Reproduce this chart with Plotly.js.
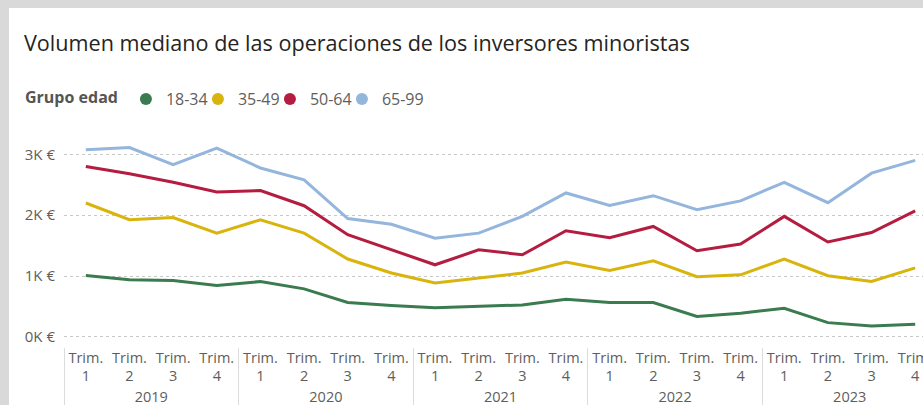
<!DOCTYPE html>
<html>
<head>
<meta charset="utf-8">
<script src="https://cdn.plot.ly/plotly-3.0.1.min.js"></script>
<style>
    html, body { margin: 0; padding: 0; background: #d9d9d9; overflow: hidden; width: 923px; height: 405px; }
    #chart { position: absolute; left: 9px; top: 8px; width: 940px; height: 397px; background: #fff; }
</style>
</head>
<body>
<div id="chart"></div>
<script>

// categories
const years = [ '2019', '2020', '2021', '2022', '2023' ];
const quarters = [ 'Trim.<br>1', 'Trim.<br>2', 'Trim.<br>3', 'Trim.<br>4' ];

// median trade volume (€) per age group, 2019 T1 .. 2023 T4
const g18_34 = [ 1010, 940, 925, 845, 910, 790, 565, 515, 480, 500, 525, 620, 565, 565, 335, 390, 470, 235, 180, 210 ];
const g35_49 = [ 2200, 1925, 1960, 1705, 1925, 1705, 1280, 1050, 885, 965, 1050, 1230, 1090, 1250, 990, 1020, 1280, 1005, 910, 1135 ];
const g50_64 = [ 2800, 2680, 2540, 2380, 2405, 2155, 1680, 1430, 1185, 1430, 1350, 1745, 1630, 1815, 1415, 1525, 1980, 1560, 1715, 2070 ];
const g65_99 = [ 3075, 3110, 2830, 3100, 2775, 2580, 1945, 1850, 1620, 1705, 1980, 2365, 2160, 2320, 2090, 2235, 2540, 2205, 2690, 2900 ];

const seriesNames = [ '18-34', '35-49', '50-64', '65-99' ];

// y ticks
const yTickVals = [ 0, 1000, 2000, 3000 ];
const yTickText = [ '0K €', '1K €', '2K €', '3K €' ];

const colors = [ '#3a7b4f', '#d8b40c', '#b41c40', '#94b5dc' ];
const fontFamily = '"Segoe UI", "Open Sans", sans-serif';

// multicategory x: [ year, quarter ]
const xYear = [], xQuarter = [];
years.forEach( y => quarters.forEach( q => { xYear.push( y ); xQuarter.push( q ); } ) );

const data = [];

[ g18_34, g35_49, g50_64, g65_99 ].forEach( ( values, i ) => {

    data.push( {
        type: 'scatter',
        mode: 'lines',
        name: seriesNames[ i ],
        showlegend: false,
        x: [ xYear, xQuarter ],
        y: values,
        line: { color: colors[ i ], width: 3 }
    } );

} );

// legend entries with round markers
seriesNames.forEach( ( name, i ) => {

    data.push( {
        type: 'scatter',
        mode: 'markers',
        name: name,
        x: [ null ],
        y: [ null ],
        marker: { color: colors[ i ], size: 12, symbol: 'circle' }
    } );

} );

// blank trailing entry so the last label is not clipped by the fixed entry width
data.push( {
    type: 'scatter',
    mode: 'markers',
    name: ' ',
    x: [ null ],
    y: [ null ],
    marker: { color: 'rgba(0,0,0,0)', size: 1 }
} );

const layout = {
    width: 940,
    height: 397,
    margin: { l: 55, r: 12, t: 128, b: 58 },
    paper_bgcolor: '#ffffff',
    plot_bgcolor: '#ffffff',
    font: { family: fontFamily, color: '#605e5c' },
    title: {
        text: 'Volumen mediano de las operaciones de los inversores minoristas',
        font: { family: fontFamily, size: 21.6, color: '#252423' },
        xref: 'container',
        x: 15 / 940,
        xanchor: 'left',
        yref: 'container',
        y: 1 - 35 / 397,
        yanchor: 'middle'
    },
    legend: {
        orientation: 'h',
        xref: 'container',
        yref: 'container',
        x: 14 / 940,
        y: 1 - 91 / 397,
        xanchor: 'left',
        yanchor: 'middle',
        font: { family: fontFamily, size: 16, color: '#605e5c' },
        title: { text: '<b>Grupo edad</b>', font: { family: fontFamily, size: 16, color: '#555555' } },
        itemwidth: 30,
        entrywidth: 27,
        borderwidth: 0,
        tracegroupgap: 0
    },
    xaxis: {
        type: 'multicategory',
        range: [ -0.5, 19.5 ],
        tickangle: 0,
        showgrid: false,
        zeroline: false,
        showline: false,
        showdividers: true,
        dividercolor: '#dcdcdc',
        dividerwidth: 1,
        tickfont: { family: fontFamily, size: 14.5, color: '#605e5c' }
    },
    yaxis: {
        range: [ -165, 3300 ],
        tickvals: yTickVals,
        ticktext: yTickText,
        showgrid: true,
        gridcolor: '#c8c8c8',
        griddash: 'dot',
        gridwidth: 1,
        zeroline: false,
        showline: false,
        ticklabelstandoff: 8,
        tickfont: { family: fontFamily, size: 15, color: '#605e5c' }
    }
};

Plotly.newPlot( 'chart', data, layout, { displayModeBar: false, staticPlot: true } );

</script>
</body>
</html>
